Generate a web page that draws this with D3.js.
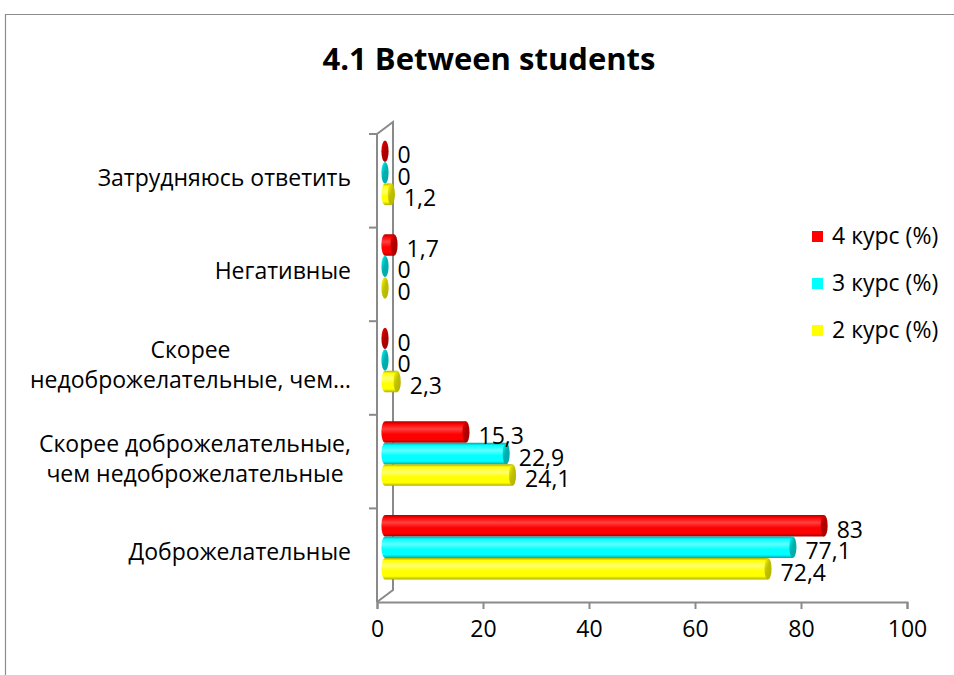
<!DOCTYPE html>
<html>
<head>
<meta charset="utf-8">
<script src="https://cdn.jsdelivr.net/npm/d3@7"></script>
<style>
  html, body { margin: 0; padding: 0; background: #fff; }
  svg { display: block; font-family: "Open Sans", Lato, sans-serif; }
</style>
</head>
<body>
<svg id="chart" width="954" height="675"></svg>
<script>
// Response categories, bottom to top; "\n" splits the axis label into lines
const categories = [
  "Доброжелательные",
  "Скорее доброжелательные,\nчем недоброжелательные",
  "Скорее\nнедоброжелательные, чем…",
  "Негативные",
  "Затрудняюсь ответить"
];
const seriesNames = ["4 курс (%)", "3 курс (%)", "2 курс (%)"];
const course4 = [83, 15.3, 0, 1.7, 0];
const course3 = [77.1, 22.9, 0, 0, 0];
const course2 = [72.4, 24.1, 2.3, 0, 1.2];
const xTicks = [0, 20, 40, 60, 80, 100];
const chartTitle = "4.1 Between students";

const seriesValues = [course4, course3, course2];
const colors = {
  "4 курс (%)": { base: "#ff0000", light: "#ff4040", dark: "#a80000", cap: "#b00000" },
  "3 курс (%)": { base: "#00ffff", light: "#60ffff", dark: "#00a8a8", cap: "#00b0b0" },
  "2 курс (%)": { base: "#ffff00", light: "#ffff70", dark: "#b0b000", cap: "#c0c000" }
};

const svg = d3.select("#chart");
const FONT = "'Open Sans', Lato, sans-serif";
const textSize = 23;

// Chart frame
svg.append("path")
  .attr("d", "M5.5,680 V14.5 H960")
  .attr("fill", "none").attr("stroke", "#8c8c8c").attr("stroke-width", 1.2);

// Title
svg.append("text")
  .attr("x", 489).attr("y", 70)
  .attr("text-anchor", "middle")
  .attr("font-size", 31).attr("font-weight", "bold")
  .attr("fill", "#000")
  .text(chartTitle);

// Geometry of the 3D plot box
const front = { x: 377, top: 134, bottom: 602 };
const depth = { dx: 16, dy: -12 };
const axisColor = "#8a8a8a";

// Scales
const x = d3.scaleLinear().domain([0, 100]).range([front.x, 907]);      // front-plane axis
const xBar = d3.scaleLinear().domain([0, 100]).range([385, 914]);       // bars sit inside the depth
const y = d3.scaleBand().domain(categories).range([front.bottom, front.top]).padding(0);
const barBlock = 64.5;
const ySeries = d3.scaleBand().domain(seriesNames).range([0, barBlock]).padding(0);
const barH = ySeries.bandwidth();
const capRx = 3.6;

// Gradients for cylinder shading
const defs = svg.append("defs");
seriesNames.forEach((s, i) => {
  const c = colors[s];
  const g = defs.append("linearGradient").attr("id", "body" + i)
    .attr("x1", 0).attr("y1", 0).attr("x2", 0).attr("y2", 1);
  g.append("stop").attr("offset", "0%").attr("stop-color", c.dark);
  g.append("stop").attr("offset", "12%").attr("stop-color", c.base);
  g.append("stop").attr("offset", "35%").attr("stop-color", c.light);
  g.append("stop").attr("offset", "60%").attr("stop-color", c.base);
  g.append("stop").attr("offset", "85%").attr("stop-color", c.base);
  g.append("stop").attr("offset", "100%").attr("stop-color", c.dark);
  const e = defs.append("linearGradient").attr("id", "cap" + i)
    .attr("x1", 0).attr("y1", 0).attr("x2", 1).attr("y2", 1);
  e.append("stop").attr("offset", "0%").attr("stop-color", c.base);
  e.append("stop").attr("offset", "45%").attr("stop-color", c.cap);
  e.append("stop").attr("offset", "100%").attr("stop-color", c.dark);
});

// Side wall (left) and its edges
svg.append("path")
  .attr("d", `M${front.x},${front.top} L${front.x + depth.dx},${front.top + depth.dy} L${front.x + depth.dx},${front.bottom + depth.dy} L${front.x},${front.bottom}`)
  .attr("fill", "none").attr("stroke", axisColor).attr("stroke-width", 2);

// Category axis line and ticks
svg.append("line")
  .attr("x1", front.x).attr("x2", front.x)
  .attr("y1", front.top).attr("y2", front.bottom)
  .attr("stroke", axisColor).attr("stroke-width", 2);
const catTicks = categories.map(c => y(c)).concat([front.top]);
svg.append("g").selectAll("line").data(catTicks).join("line")
  .attr("x1", front.x - 8).attr("x2", front.x)
  .attr("y1", d => d).attr("y2", d => d)
  .attr("stroke", axisColor).attr("stroke-width", 2);

// Value axis
const xAxis = d3.axisBottom(x).tickValues(xTicks).tickSize(7).tickPadding(12).tickFormat(d3.format("d"));
const gx = svg.append("g").attr("transform", `translate(0,${front.bottom})`).call(xAxis);
gx.select(".domain").attr("stroke", axisColor).attr("stroke-width", 2);
gx.selectAll(".tick line").attr("stroke", axisColor).attr("stroke-width", 2);
gx.selectAll(".tick text").attr("font-size", textSize).attr("font-family", FONT).attr("fill", "#000");

// Category labels
const labelRight = 351;
const lineH = 30;
const catG = svg.append("g");
categories.forEach(c => {
  const lines = c.split("\n");
  const cy = y(c) + y.bandwidth() / 2 - 3;
  const t = catG.append("text")
    .attr("font-size", textSize).attr("fill", "#000")
    .attr("text-anchor", "middle");
  lines.forEach((ln, i) => {
    t.append("tspan")
      .attr("y", cy + (i - (lines.length - 1) / 2) * lineH)
      .attr("dy", "0.35em")
      .text(ln);
  });
  let w = 0;
  t.selectAll("tspan").each(function () { w = Math.max(w, this.getComputedTextLength()); });
  t.selectAll("tspan").attr("x", labelRight - w / 2);
});

// Bars drawn as horizontal cylinders
const barsData = [];
categories.forEach((c, ci) => {
  seriesNames.forEach((s, si) => {
    barsData.push({ cat: c, series: s, si, value: seriesValues[si][ci] });
  });
});
// draw top categories first so lower bars overlap naturally
barsData.sort((a, b) => categories.indexOf(b.cat) - categories.indexOf(a.cat) || a.si - b.si);

const groupOffset = -8;
const barTop = d => y(d.cat) + y.bandwidth() / 2 - barBlock / 2 + groupOffset + ySeries(d.series);

const bars = svg.append("g").selectAll("g").data(barsData).join("g");
bars.each(function (d) {
  const g = d3.select(this);
  const top = barTop(d);
  const cy = top + barH / 2;
  const x0 = xBar(0), x1 = xBar(d.value);
  if (x1 - x0 > 0.5) {
    // cylinder body with rounded left end
    g.append("path")
      .attr("d", `M${x0},${top} L${x1},${top} L${x1},${top + barH} L${x0},${top + barH} A${capRx},${barH / 2} 0 0 1 ${x0},${top} Z`)
      .attr("fill", `url(#body${d.si})`);
  }
  // end cap
  g.append("ellipse")
    .attr("cx", x1).attr("cy", cy)
    .attr("rx", capRx).attr("ry", barH / 2)
    .attr("fill", `url(#cap${d.si})`);
});

// Value labels
const fmt = v => String(v).replace(".", ",");
svg.append("g").selectAll("text").data(barsData).join("text")
  .attr("x", d => xBar(d.value) + capRx + 9)
  .attr("y", d => barTop(d) + barH / 2 + 4)
  .attr("dy", "0.35em")
  .attr("font-size", textSize).attr("fill", "#000")
  .text(d => fmt(d.value));

// Legend
const legend = svg.append("g").attr("transform", "translate(812,236)");
const li = legend.selectAll("g").data(seriesNames).join("g")
  .attr("transform", (d, i) => `translate(0,${i * 47})`);
li.append("rect").attr("x", 0).attr("y", -5).attr("width", 11).attr("height", 11)
  .attr("fill", d => colors[d].base);
li.append("text").attr("x", 20).attr("y", 0).attr("dy", "0.35em")
  .attr("font-size", textSize).attr("fill", "#000")
  .text(d => d);
</script>
</body>
</html>
